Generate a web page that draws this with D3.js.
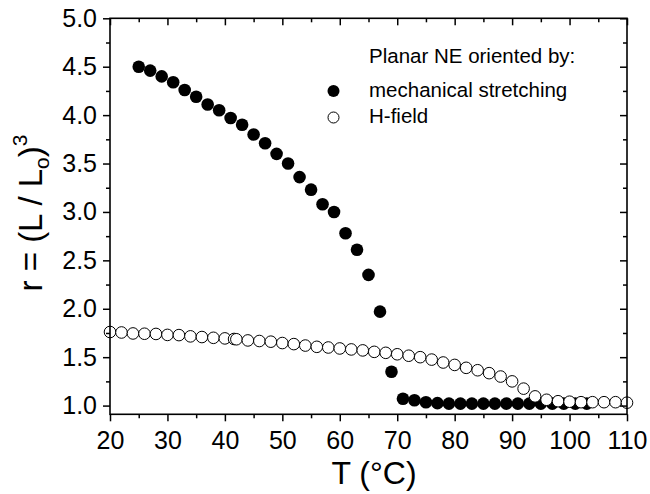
<!DOCTYPE html>
<html>
<head>
<meta charset="utf-8">
<script src="https://cdn.jsdelivr.net/npm/d3@7"></script>
<style>
  body { margin: 0; background: #fff; }
  svg text { font-family: "Liberation Sans", Arial, Helvetica, sans-serif; fill: #000; }
</style>
</head>
<body>
<svg id="chart"></svg>
<script>
const width = 650;
const height = 494;

// Mechanical stretching (filled circles)
const stretchT = [25, 27, 29, 31, 33, 35, 37, 39, 41, 43, 45, 47, 49, 51, 53, 55, 57, 59, 61, 63, 65, 67, 69,
  71, 73, 75, 77, 79, 81, 83, 85, 87, 89, 91, 93, 95, 97, 99, 101, 103];
const stretchR = [4.50, 4.46, 4.40, 4.34, 4.26, 4.19, 4.11, 4.05, 3.97, 3.90, 3.80, 3.71, 3.60, 3.50, 3.36, 3.23,
  3.08, 3.00, 2.78, 2.61, 2.35, 1.97, 1.35, 1.07, 1.055, 1.035, 1.025, 1.02, 1.02, 1.02, 1.02, 1.02, 1.02,
  1.02, 1.02, 1.02, 1.02, 1.02, 1.02, 1.02];

// H-field (open circles)
const fieldT = [20, 22, 24, 26, 28, 30, 32, 34, 36, 38, 40, 41.6, 42, 44, 46, 48, 50, 52, 54, 56, 58, 60, 62, 64,
  66, 68, 70, 72, 74, 76, 78, 80, 82, 84, 86, 88, 90, 92, 94, 96, 98, 100, 102, 104, 106, 108, 110];
const fieldR = [1.76, 1.755, 1.745, 1.742, 1.74, 1.73, 1.728, 1.715, 1.708, 1.70, 1.694, 1.688, 1.685, 1.673,
  1.667, 1.66, 1.646, 1.635, 1.62, 1.607, 1.60, 1.59, 1.58, 1.57, 1.555, 1.545, 1.53, 1.515, 1.50, 1.475, 1.445,
  1.42, 1.39, 1.365, 1.335, 1.30, 1.25, 1.175, 1.095, 1.06, 1.045, 1.04, 1.035, 1.035, 1.035, 1.035, 1.03];

const xMajor = [20, 30, 40, 50, 60, 70, 80, 90, 100, 110];
const xMinor = [25, 35, 45, 55, 65, 75, 85, 95, 105];
const yMajor = [1.0, 1.5, 2.0, 2.5, 3.0, 3.5, 4.0, 4.5, 5.0];
const yMinor = [1.25, 1.75, 2.25, 2.75, 3.25, 3.75, 4.25, 4.75];

const legendTitle = "Planar NE oriented by:";
const legendNames = ["mechanical stretching", "H-field"];

const margin = { top: 18.3, right: 23, bottom: 79.7, left: 110 };

const svg = d3.select("#chart")
  .attr("width", width)
  .attr("height", height);

const x = d3.scaleLinear()
  .domain([20, 110])
  .range([margin.left, width - margin.right]);

const y = d3.scaleLinear()
  .domain([0.91, 5.0])
  .range([height - margin.bottom, margin.top]);

const plotW = width - margin.left - margin.right;
const plotH = height - margin.top - margin.bottom;
const r = 6.3;

// data: filled first, open circles drawn above with white fill
const stretchData = stretchT.map((t, i) => ({ t: t, r: stretchR[i] }));
const fieldData = fieldT.map((t, i) => ({ t: t, r: fieldR[i] }));

svg.append("g")
  .selectAll("circle")
  .data(stretchData)
  .enter().append("circle")
  .attr("cx", d => x(d.t))
  .attr("cy", d => y(d.r))
  .attr("r", r)
  .attr("fill", "#000");

svg.append("g")
  .selectAll("circle")
  .data(fieldData)
  .enter().append("circle")
  .attr("cx", d => x(d.t))
  .attr("cy", d => y(d.r))
  .attr("r", r - 0.5)
  .attr("fill", "#fff")
  .attr("stroke", "#000")
  .attr("stroke-width", 1);

// axes
function styleAxis(g) {
  g.select(".domain").remove();
  g.selectAll(".tick line").attr("stroke", "#000").attr("stroke-width", 1.5);
}

const bottomY = height - margin.bottom;
const rightX = width - margin.right;

svg.append("g")
  .attr("transform", `translate(0,${bottomY})`)
  .call(d3.axisBottom(x).tickValues(xMajor).tickSize(7).tickPadding(10).tickFormat(d3.format("d")))
  .call(styleAxis)
  .call(g => g.selectAll("text").attr("font-size", 25).attr("font-family", null));

svg.append("g")
  .attr("transform", `translate(0,${bottomY})`)
  .call(d3.axisBottom(x).tickValues(xMinor).tickSize(4).tickFormat(""))
  .call(styleAxis);

svg.append("g")
  .attr("transform", `translate(0,${margin.top})`)
  .call(d3.axisTop(x).tickValues(xMajor).tickSize(-7).tickFormat(""))
  .call(styleAxis);

svg.append("g")
  .attr("transform", `translate(0,${margin.top})`)
  .call(d3.axisTop(x).tickValues(xMinor).tickSize(-4).tickFormat(""))
  .call(styleAxis);

svg.append("g")
  .attr("transform", `translate(${margin.left},0)`)
  .call(d3.axisLeft(y).tickValues(yMajor).tickSize(7).tickPadding(6).tickFormat(d3.format(".1f")))
  .call(styleAxis)
  .call(g => g.selectAll("text").attr("font-size", 25).attr("font-family", null));

svg.append("g")
  .attr("transform", `translate(${margin.left},0)`)
  .call(d3.axisLeft(y).tickValues(yMinor).tickSize(4).tickFormat(""))
  .call(styleAxis);

svg.append("g")
  .attr("transform", `translate(${rightX},0)`)
  .call(d3.axisRight(y).tickValues(yMajor).tickSize(-7).tickFormat(""))
  .call(styleAxis);

svg.append("g")
  .attr("transform", `translate(${rightX},0)`)
  .call(d3.axisRight(y).tickValues(yMinor).tickSize(-4).tickFormat(""))
  .call(styleAxis);

// frame
svg.append("rect")
  .attr("x", margin.left)
  .attr("y", margin.top)
  .attr("width", plotW)
  .attr("height", plotH)
  .attr("fill", "none")
  .attr("stroke", "#000")
  .attr("stroke-width", 1.6);

// axis titles
svg.append("text")
  .attr("x", 374)
  .attr("y", 484)
  .attr("text-anchor", "middle")
  .attr("font-size", 32)
  .text("T (\u00B0C)");

const yTitle = svg.append("text")
  .attr("transform", "translate(42,213) rotate(-90)")
  .attr("text-anchor", "middle")
  .attr("font-size", 33);
yTitle.append("tspan").text("r = (L / L");
yTitle.append("tspan").attr("font-size", 21).attr("dy", 7).text("o");
yTitle.append("tspan").attr("dy", -7).text(")");
yTitle.append("tspan").attr("font-size", 21).attr("dy", -15).text("3");

// legend
const legend = svg.append("g");
legend.append("text")
  .attr("x", 369)
  .attr("y", 63)
  .attr("font-size", 20.5)
  .text(legendTitle);

legend.append("circle")
  .attr("cx", 333.5)
  .attr("cy", 91)
  .attr("r", 6)
  .attr("fill", "#000");
legend.append("circle")
  .attr("cx", 333.5)
  .attr("cy", 117.5)
  .attr("r", 5.5)
  .attr("fill", "#fff")
  .attr("stroke", "#000")
  .attr("stroke-width", 1);

legend.selectAll("text.item")
  .data(legendNames)
  .enter().append("text")
  .attr("class", "item")
  .attr("x", 369)
  .attr("y", (d, i) => 96.5 + i * 26.5)
  .attr("font-size", 20.5)
  .text(d => d);
</script>
</body>
</html>
